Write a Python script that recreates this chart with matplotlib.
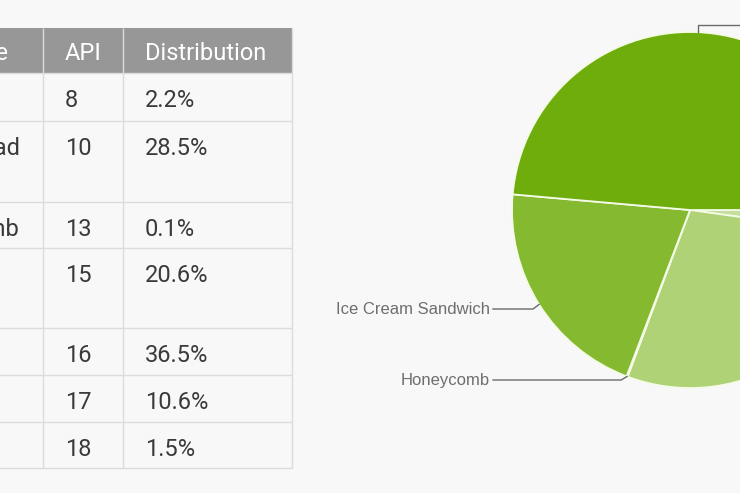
import matplotlib
matplotlib.use("Agg")
import matplotlib.pyplot as plt
from matplotlib.patches import Rectangle
import numpy as np

# ---------------- data ----------------
table_header = ["Codename", "API", "Distribution"]
codenames = ["Froyo", "Gingerbread", "Honeycomb", "Ice Cream\nSandwich", "Jelly Bean", "", ""]
api_levels = [8, 10, 13, 15, 16, 17, 18]
distribution = [2.2, 28.5, 0.1, 20.6, 36.5, 10.6, 1.5]

pie_labels = ["Froyo", "Gingerbread", "Honeycomb", "Ice Cream Sandwich", "Jelly Bean"]
pie_values = [2.2, 28.5, 0.1, 20.6, 48.6]
pie_colors = ["#c4df9b", "#afd277", "#9ac654", "#84b930", "#6fad0c"]

# ---------------- layout (pixels, y measured from top) ----------------
W, H = 740, 493
BG = "#f8f8f8"
HEADER_BG = "#979797"
GRID = "#dcdcdc"
TXT = "#3a3a3a"
FONT = "Roboto"
FS = 17

col_edges = [-130, 43, 123, 292]          # left edges of columns + right edge
header_top, header_bot = 28, 73
row_edges = [73, 121, 202, 248, 328, 375, 422, 468]
pad_x = 22
line_step = 33

fig = plt.figure(figsize=(W / 100, H / 100), dpi=100, facecolor=BG)
ax = fig.add_axes([0, 0, 1, 1])
ax.set_facecolor(BG)


def Y(ypx):
    return H - ypx


# header background
ax.add_patch(Rectangle((col_edges[0], Y(header_bot)), col_edges[-1] - col_edges[0],
                       header_bot - header_top, facecolor=HEADER_BG, edgecolor="none", zorder=1))
# cell grid lines
for x in col_edges[1:]:
    ax.plot([x, x], [Y(header_top), Y(row_edges[-1])], color=GRID, lw=1.0, zorder=2,
            solid_capstyle="butt")
for y in row_edges:
    ax.plot([col_edges[0], col_edges[-1]], [Y(y), Y(y)], color=GRID, lw=1.0, zorder=2,
            solid_capstyle="butt")

# header texts
for j, h in enumerate(table_header):
    ax.text(col_edges[j] + pad_x + (3 if j == 0 else 0), Y(header_top + 32), h, color="white",
            fontsize=FS, family=FONT, ha="left", va="baseline", clip_on=True, zorder=3)

# body texts
for i in range(len(api_levels)):
    top = row_edges[i]
    cells = [codenames[i], str(api_levels[i]), f"{distribution[i]}%"]
    for j, c in enumerate(cells):
        for k, line in enumerate(c.split("\n")):
            if not line:
                continue
            ax.text(col_edges[j] + pad_x, Y(top + 34 + k * line_step), line, color=TXT,
                    fontsize=FS, family=FONT, ha="left", va="baseline", clip_on=True, zorder=3)

# ---------------- pie ----------------
cx, cy, R = 690, 210, 178
wedges, _ = ax.pie(pie_values, colors=pie_colors, startangle=0, counterclock=False,
                   center=(cx, Y(cy)), radius=R,
                   wedgeprops=dict(edgecolor="#f3fbe6", linewidth=1.3))

LBL_COLOR = "#6e6e6e"
LINE_COLOR = "#6a6a6a"
label_y = {"Ice Cream Sandwich": 309, "Honeycomb": 380}
for w, name in zip(wedges, pie_labels):
    mid = np.deg2rad((w.theta1 + w.theta2) / 2)
    ex, ey = cx + R * np.cos(mid), Y(cy) + R * np.sin(mid)
    if name in label_y:
        ly = Y(label_y[name])
        ax.plot([ex, ex - 6, 493], [ey, ly, ly], color=LINE_COLOR, lw=1.0, zorder=3,
                clip_on=True)
        ax.text(490, ly, name, color=LBL_COLOR, fontsize=12, family="Liberation Sans",
                ha="right", va="center", zorder=3)
    elif name == "Jelly Bean":
        ty = Y(25)
        ax.plot([ex, ex, 800], [ey, ty, ty], color=LINE_COLOR, lw=1.0, zorder=3, clip_on=True)

ax.set_xlim(0, W)
ax.set_ylim(0, H)
ax.set_aspect("auto")
ax.axis("off")

fig.savefig("out.png", dpi=100, facecolor=BG)
